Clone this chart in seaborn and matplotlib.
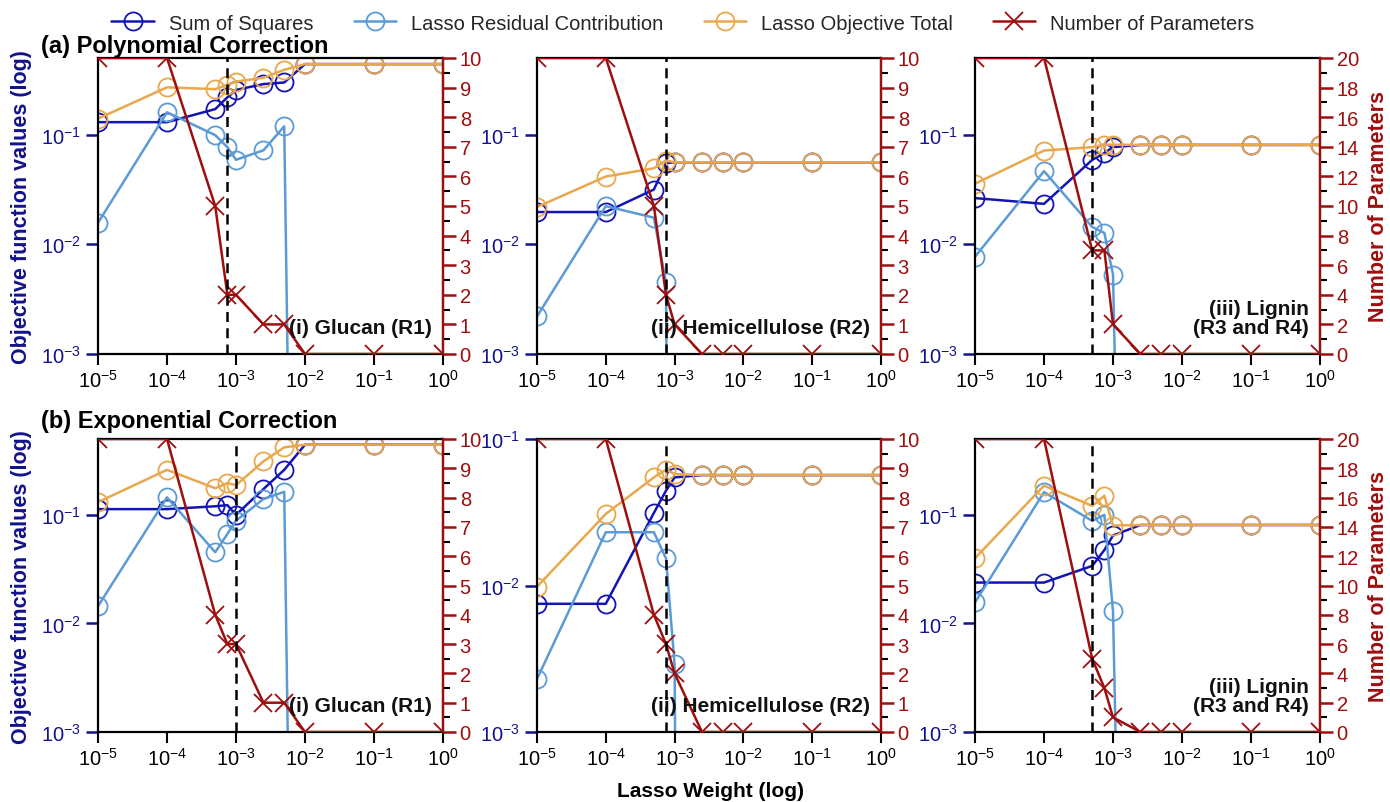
import numpy as np
import pandas as pd
import matplotlib
matplotlib.use("Agg")
import matplotlib.pyplot as plt
import seaborn as sns
from matplotlib.ticker import LogLocator, MultipleLocator, NullLocator

sns.set_theme(style="white")
plt.rcParams['font.family'] = ['Liberation Sans', 'DejaVu Sans']
plt.rcParams['mathtext.fontset'] = 'custom'
plt.rcParams['mathtext.rm'] = 'Liberation Sans'
plt.rcParams['mathtext.default'] = 'regular'

# ---------------- data ----------------
lasso_weight = [1e-5, 1e-4, 5e-4, 7.5e-4, 1e-3, 2.5e-3, 5e-3, 1e-2, 1e-1, 1.0]

# (a) Polynomial correction
a1_sos   = [0.130, 0.130, 0.171, 0.219, 0.256, 0.289, 0.299, 0.44, 0.44, 0.44]
a1_res   = [0.0157, 0.160, 0.099, 0.077, 0.059, 0.072, 0.119, 1e-14, 1e-14, 1e-14]
a1_tot   = [0.140, 0.270, 0.260, 0.285, 0.305, 0.330, 0.390, 0.44, 0.44, 0.44]
a1_npar  = [10, 10, 5, 2, 2, 1, 1, 0, 0, 0]
a1_cut = 7.5e-4

a2_sos   = [0.0197, 0.0197, 0.0316, 0.055, 0.056, 0.056, 0.056, 0.056, 0.056, 0.056]
a2_res   = [0.0022, 0.0223, 0.0175, 0.0045, 1e-14, 1e-14, 1e-14, 1e-14, 1e-14, 1e-14]
a2_tot   = [0.0219, 0.0415, 0.0494, 0.058, 0.056, 0.056, 0.056, 0.056, 0.056, 0.056]
a2_npar  = [10, 10, 5, 2, 1, 0, 0, 0, 0, 0]
a2_cut = 7.5e-4

a3_sos   = [0.0264, 0.0234, 0.0589, 0.068, 0.077, 0.0806, 0.0806, 0.0806, 0.0806, 0.0806]
a3_res   = [0.0077, 0.0465, 0.0144, 0.0127, 0.0053, 1e-14, 1e-14, 1e-14, 1e-14, 1e-14]
a3_tot   = [0.0357, 0.0716, 0.077, 0.081, 0.081, 0.0806, 0.0806, 0.0806, 0.0806, 0.0806]
a3_npar  = [20, 20, 7, 7, 2, 0, 0, 0, 0, 0]
a3_cut = 5e-4

# (b) Exponential correction
b1_sos   = [0.113, 0.113, 0.120, 0.123, 0.100, 0.173, 0.260, 0.443, 0.443, 0.443]
b1_res   = [0.0144, 0.145, 0.0453, 0.0667, 0.0885, 0.140, 0.163, 1e-14, 1e-14, 1e-14]
b1_tot   = [0.131, 0.260, 0.176, 0.196, 0.188, 0.311, 0.419, 0.443, 0.443, 0.443]
b1_npar  = [10, 10, 4, 3, 3, 1, 1, 0, 0, 0]
b1_cut = 1e-3

b2_sos   = [0.0075, 0.0075, 0.0313, 0.0444, 0.0547, 0.0567, 0.0567, 0.0567, 0.0567, 0.0567]
b2_res   = [0.0023, 0.0231, 0.0231, 0.0153, 0.0029, 1e-30, 1e-30, 1e-30, 1e-30, 1e-30]
b2_tot   = [0.0098, 0.0308, 0.0547, 0.0617, 0.0577, 0.0567, 0.0567, 0.0567, 0.0567, 0.0567]
b2_npar  = [10, 10, 4, 3, 2, 0, 0, 0, 0, 0]
b2_cut = 7.5e-4

b3_sos   = [0.0238, 0.0238, 0.0339, 0.0475, 0.0646, 0.0807, 0.0807, 0.0807, 0.0807, 0.0807]
b3_res   = [0.0156, 0.162, 0.088, 0.100, 0.013, 1e-14, 1e-14, 1e-14, 1e-14, 1e-14]
b3_tot   = [0.0398, 0.186, 0.121, 0.150, 0.0798, 0.0807, 0.0807, 0.0807, 0.0807, 0.0807]
b3_npar  = [20, 20, 5, 3, 1, 0, 0, 0, 0, 0]
b3_cut = 5e-4

panels = [
    dict(sos=a1_sos, res=a1_res, tot=a1_tot, npar=a1_npar, cut=a1_cut, ymax=0.5, pmax=10, label="(i) Glucan (R1)"),
    dict(sos=a2_sos, res=a2_res, tot=a2_tot, npar=a2_npar, cut=a2_cut, ymax=0.5, pmax=10, label="(ii) Hemicellulose (R2)"),
    dict(sos=a3_sos, res=a3_res, tot=a3_tot, npar=a3_npar, cut=a3_cut, ymax=0.5, pmax=20, label="(iii) Lignin\n(R3 and R4)"),
    dict(sos=b1_sos, res=b1_res, tot=b1_tot, npar=b1_npar, cut=b1_cut, ymax=0.5, pmax=10, label="(i) Glucan (R1)"),
    dict(sos=b2_sos, res=b2_res, tot=b2_tot, npar=b2_npar, cut=b2_cut, ymax=0.1, pmax=10, label="(ii) Hemicellulose (R2)"),
    dict(sos=b3_sos, res=b3_res, tot=b3_tot, npar=b3_npar, cut=b3_cut, ymax=0.5, pmax=20, label="(iii) Lignin\n(R3 and R4)"),
]

series_names = ["Sum of Squares", "Lasso Residual Contribution", "Lasso Objective Total", "Number of Parameters"]
c_sos = "#1414B4"
c_res = "#5B9BD5"
c_tot = "#E9A84C"
c_par = "#9E0E0E"
c_ltick = "#12128C"

# ---------------- layout ----------------
W, H = 1390, 803
fig = plt.figure(figsize=(13.9, 8.03), dpi=100)

col_x = [(98, 443), (537, 881), (975, 1320)]
row_y = [(59, 355), (440, 733)]

def frac_rect(x0, x1, y0, y1):
    return [x0 / W, 1 - y1 / H, (x1 - x0) / W, (y1 - y0) / H]

mk = dict(marker='o', markersize=13, markerfacecolor='none', markeredgewidth=1.3)
legend_handles = None

for i, p in enumerate(panels):
    r, c = divmod(i, 3)
    ax = fig.add_axes(frac_rect(col_x[c][0], col_x[c][1], row_y[r][0], row_y[r][1]))
    ax.set_xscale('log')
    ax.set_yscale('log')
    df = pd.DataFrame({"w": lasso_weight, "sos": p["sos"], "res": p["res"],
                       "tot": p["tot"], "npar": p["npar"]})
    sns.lineplot(data=df, x="w", y="sos", ax=ax, color=c_sos, lw=1.8,
                 markeredgecolor=c_sos, label=series_names[0], legend=False, **mk)
    sns.lineplot(data=df, x="w", y="res", ax=ax, color=c_res, lw=1.8,
                 markeredgecolor=c_res, label=series_names[1], legend=False, **mk)
    sns.lineplot(data=df, x="w", y="tot", ax=ax, color=c_tot, lw=1.8,
                 markeredgecolor=c_tot, label=series_names[2], legend=False, **mk)
    ax.set_xlim(1e-5, 1)
    ax.set_ylim(1e-3, p["ymax"])
    ax.set_xlabel("")
    ax.set_ylabel("")
    ax.xaxis.set_major_locator(LogLocator(base=10, numticks=10))
    ax.xaxis.set_minor_locator(NullLocator())
    ax.yaxis.set_major_locator(LogLocator(base=10, numticks=10))
    ax.yaxis.set_minor_locator(NullLocator())
    ax.tick_params(axis='x', which='major', direction='out', length=8, width=1.5,
                   colors='black', labelsize=14.5, pad=3, bottom=True)
    ax.tick_params(axis='y', which='major', direction='out', length=9, width=1.8,
                   colors=c_ltick, labelsize=14.5, pad=3, left=True)
    for s in ax.spines.values():
        s.set_linewidth(1.6)
        s.set_color('black')

    ax2 = ax.twinx()
    sns.lineplot(data=df, x="w", y="npar", ax=ax2, color=c_par, lw=1.8,
                 marker='x', markersize=13, markeredgewidth=1.3, markeredgecolor=c_par,
                 label=series_names[3], legend=False)
    ax2.set_ylim(0, p["pmax"])
    ax2.set_ylabel("")
    step = 1 if p["pmax"] == 10 else 2
    ax2.yaxis.set_major_locator(MultipleLocator(step))
    ax2.yaxis.set_minor_locator(MultipleLocator(step / 2))
    ax2.tick_params(axis='y', which='major', direction='out', length=9, width=1.8,
                    colors=c_par, labelsize=14.5, pad=3, right=True)
    ax2.tick_params(axis='y', which='minor', direction='out', length=5, width=1.5,
                    color='black', right=True)
    for s in ax2.spines.values():
        s.set_linewidth(1.6)
        s.set_visible(False)
    ax2.spines['right'].set_visible(True)
    ax2.spines['right'].set_color(c_par)
    ax2.axvline(p["cut"], color='black', ls=(0, (4, 2.5)), lw=1.8, zorder=5)
    ax2.text(0.968, 0.058, p["label"], transform=ax2.transAxes, ha='right', va='bottom',
             fontsize=15, fontweight='bold', color='#111111', zorder=6, linespacing=1.0)

    if legend_handles is None:
        legend_handles = list(ax.get_lines()[:3]) + [ax2.get_lines()[0]]

fig.legend(legend_handles, series_names, loc='center', bbox_to_anchor=(683 / W, 1 - 24 / H),
           ncol=4, frameon=False, fontsize=14.5, handlelength=2.1, columnspacing=2.0,
           handletextpad=0.75)

fig.text(41 / W, 1 - 47 / H, "(a) Polynomial Correction", fontsize=17, fontweight='bold',
         ha='left', va='center', color='black')
fig.text(41 / W, 1 - 422 / H, "(b) Exponential Correction", fontsize=17, fontweight='bold',
         ha='left', va='center', color='black')

for yc in (207, 587):
    fig.text(22 / W, 1 - yc / H, "Objective function values (log)", rotation=90,
             fontsize=15.5, fontweight='bold', ha='center', va='center', color=c_ltick)
    fig.text(1379 / W, 1 - yc / H, "Number of Parameters", rotation=90,
             fontsize=15.5, fontweight='bold', ha='center', va='center', color=c_par)

fig.text(710 / W, 1 - 792 / H, "Lasso Weight (log)", fontsize=15, fontweight='bold',
         ha='center', va='center', color='black')

fig.savefig("out.png", dpi=100)
